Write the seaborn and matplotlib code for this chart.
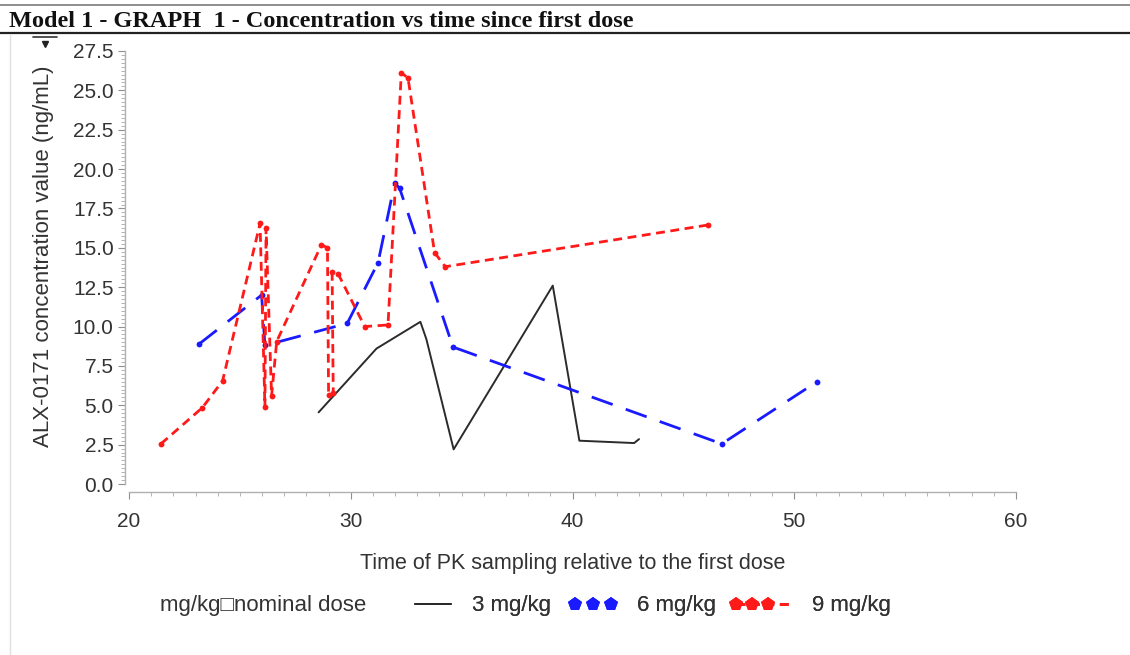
import numpy as np
import pandas as pd
import matplotlib
matplotlib.use("Agg")
import matplotlib.pyplot as plt
from matplotlib.lines import Line2D
from matplotlib.legend_handler import HandlerLine2D
from matplotlib.ticker import MultipleLocator, FormatStrFormatter
import seaborn as sns

# ---------------- data ----------------
dose_labels = ["3 mg/kg", "6 mg/kg", "9 mg/kg"]

time_3 = [28.55, 31.16, 33.14, 33.41, 34.64, 39.11, 40.31, 42.78, 43.0]
conc_3 = [4.55, 8.6, 10.3, 9.2, 2.2, 12.6, 2.75, 2.6, 2.85]

time_6 = [23.17, 25.98, 26.13, 29.84, 31.23, 31.98, 32.2, 34.61, 46.73, 51.03]
conc_6 = [8.9, 12.0, 8.8, 10.2, 14.05, 19.1, 18.8, 8.7, 2.55, 6.5]

time_9 = [21.44, 23.31, 24.22, 25.91, 26.13, 26.18, 26.43, 26.66, 28.68, 28.95,
          29.0, 29.21, 29.16, 29.43, 30.63, 31.68, 32.28, 32.58, 33.78, 34.26, 46.11]
conc_9 = [2.55, 4.85, 6.55, 16.55, 4.9, 16.25, 5.6, 9.05, 15.2, 15.0,
          5.65, 5.75, 13.45, 13.35, 10.0, 10.1, 26.1, 25.8, 14.7, 13.8, 16.45]

title_text = "Model 1 - GRAPH  1 - Concentration vs time since first dose"
x_label = "Time of PK sampling relative to the first dose"
y_label = "ALX-0171 concentration value (ng/mL)"
legend_title = "mg/kg\u25a1nominal dose"

# ---------------- figure ----------------
sns.set_theme(style="white")
plt.rcParams["font.family"] = ["Liberation Sans", "DejaVu Sans"]

W, H = 1130, 655
fig = plt.figure(figsize=(W / 100, H / 100), dpi=100)

x0, x1 = 129, 1016
y0, y1 = 484, 51
ax = fig.add_axes([x0 / W, (H - y0) / H, (x1 - x0) / W, (y0 - y1) / H])

df3 = pd.DataFrame({"t": time_3, "c": conc_3})
df6 = pd.DataFrame({"t": time_6, "c": conc_6})
df9 = pd.DataFrame({"t": time_9, "c": conc_9})

sns.lineplot(data=df3, x="t", y="c", ax=ax, sort=False, estimator=None,
             color="#2b2b2b", linewidth=1.4, linestyle="-")
sns.lineplot(data=df6, x="t", y="c", ax=ax, sort=False, estimator=None,
             color="#1a1aff", linewidth=2.0, linestyle=(0, (8, 5)),
             marker="o", markersize=4.2, markeredgewidth=0)
sns.lineplot(data=df9, x="t", y="c", ax=ax, sort=False, estimator=None,
             color="#ff1a1a", linewidth=2.0, linestyle=(0, (3.2, 2.0)),
             marker="o", markersize=4.2, markeredgewidth=0)

ax.set_xlim(20, 60)
ax.set_ylim(0, 27.5)
ax.xaxis.set_major_locator(MultipleLocator(10))
ax.xaxis.set_minor_locator(MultipleLocator(1))
ax.yaxis.set_major_locator(MultipleLocator(2.5))
ax.yaxis.set_minor_locator(MultipleLocator(0.25))
ax.yaxis.set_major_formatter(FormatStrFormatter("%.1f"))

for s in ["top", "right"]:
    ax.spines[s].set_visible(False)
ax.spines["left"].set_position(("outward", 3))
ax.spines["bottom"].set_position(("outward", 6))
for s in ["left", "bottom"]:
    ax.spines[s].set_color("#b0b0b0")
    ax.spines[s].set_linewidth(1.0)

ax.tick_params(axis="both", which="both", bottom=True, left=True)
ax.tick_params(axis="both", which="major", direction="out", length=5, width=0.8,
               color="#909090", labelsize=15, labelcolor="#333333", pad=3)
ax.tick_params(axis="both", which="minor", direction="out", length=3, width=0.6,
               color="#a8a8a8")
ax.tick_params(axis="x", which="major", pad=9)

ax.set_xlabel(x_label, fontsize=15.5, color="#333333", labelpad=16)
ax.set_ylabel(y_label, fontsize=16, color="#333333")
ax.yaxis.set_label_coords(-0.085, 0.527)
ax.grid(False)

# ---------------- title and page lines ----------------
fig.text(9 / W, 1 - 27 / H, title_text, fontsize=17.5, fontweight="bold",
         family=["Liberation Serif", "DejaVu Serif"], color="#111111",
         ha="left", va="baseline")
fig.add_artist(Line2D([0, 1], [1 - 5 / H, 1 - 5 / H], color="#7a7a7a", lw=1.2))
fig.add_artist(Line2D([0, 1], [1 - 33 / H, 1 - 33 / H], color="#222222", lw=1.6))
fig.add_artist(Line2D([10 / W, 10 / W], [0, 1 - 35 / H], color="#e0e0e0", lw=1.0))
# small cursor mark near the top left
fig.add_artist(Line2D([33 / W, 57 / W], [1 - 37 / H, 1 - 37 / H], color="#333333", lw=1.2))
fig.add_artist(Line2D([45 / W], [1 - 44 / H], color="#222222", marker="v",
                      markersize=4, linestyle="none"))


# ---------------- legend ----------------
class MarkersLeft(HandlerLine2D):
    """Three markers on the left part of the swatch, line running to its end."""
    def get_xdata(self, legend, xdescent, ydescent, width, height, fontsize):
        x = -xdescent + np.array([0.1, 0.37, 0.64, 1.0]) * width
        return x, x

    def create_artists(self, *args, **kwargs):
        arts = super().create_artists(*args, **kwargs)
        for a in arts:
            a.set_markevery([0, 1, 2])
        return arts


fig.text(160 / W, 1 - 606 / H, legend_title, fontsize=16, color="#333333",
         ha="left", va="center")

h3 = Line2D([], [], color="#2b2b2b", lw=1.4, linestyle="-")
h6 = Line2D([], [], color="#1a1aff", lw=2.0, linestyle="none", marker="p",
            markersize=10.5, markeredgewidth=0)
h9 = Line2D([], [], color="#ff1a1a", lw=2.0, linestyle=(0, (3.2, 2.0)), marker="p",
            markersize=10.5, markeredgewidth=0)

px2fs = 1 / (16 * 100 / 72)  # pixels -> units of the 16 pt font size
entries = [
    (h3, dose_labels[0], 408, 50, 14, None),
    (h6, dose_labels[1], 568, 50, 19, None),
    (h9, dose_labels[2], 730, 60, 22, {h9: MarkersLeft()}),
]
for h, lab, xpos, hlen, tpad, hmap in entries:
    lg = fig.legend([h], [lab], loc="center left",
                    bbox_to_anchor=(xpos / W, 1 - 606 / H), frameon=False,
                    fontsize=16, numpoints=3, handlelength=hlen * px2fs,
                    handletextpad=tpad * px2fs, borderpad=0, borderaxespad=0,
                    labelcolor="#333333", handler_map=hmap)
    fig.add_artist(lg)

fig.savefig("out.png", dpi=100, facecolor="white")
